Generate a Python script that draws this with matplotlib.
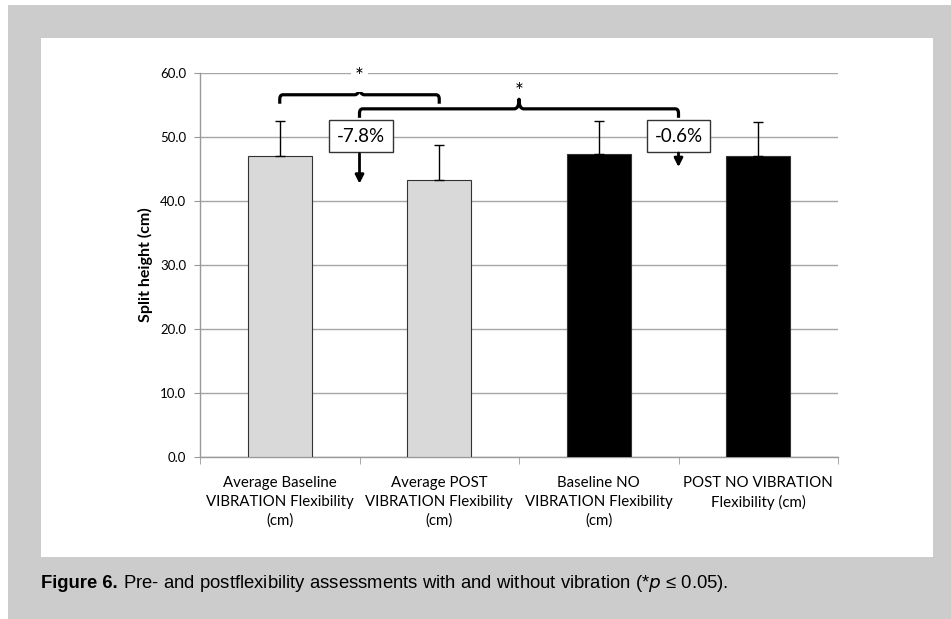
import matplotlib
matplotlib.use("Agg")
import matplotlib.pyplot as plt
from matplotlib.patches import Rectangle
from matplotlib.path import Path
from matplotlib.patches import PathPatch

categories = ["Average Baseline\nVIBRATION Flexibility\n(cm)",
              "Average POST\nVIBRATION Flexibility\n(cm)",
              "Baseline NO\nVIBRATION Flexibility\n(cm)",
              "POST NO VIBRATION\nFlexibility (cm)"]
means = [47.0, 43.3, 47.3, 47.0]
errors = [5.5, 5.45, 5.2, 5.3]
bar_colors = ["#d9d9d9", "#d9d9d9", "#000000", "#000000"]
yticks = [0, 10, 20, 30, 40, 50, 60]
changes = ["-7.8%", "-0.6%"]
caption_bold = "Figure 6."
caption_rest = " Pre- and postflexibility assessments with and without vibration (*$p$ \u2264 0.05)."

W, H = 951, 619
fig = plt.figure(figsize=(W / 100, H / 100), dpi=100)
fig.patch.set_facecolor("white")

# gray frame and white panel
fig.patches.append(Rectangle((8 / W, 0), 1 - 8 / W, 1 - 5 / H, transform=fig.transFigure,
                             facecolor="#cccccc", edgecolor="none", zorder=-2))
fig.patches.append(Rectangle((41 / W, 1 - 557 / H), (933 - 41) / W, (557 - 38) / H,
                             transform=fig.transFigure, facecolor="white", edgecolor="none", zorder=-1))

ax = fig.add_axes([200 / W, 1 - 457 / H, (838 - 200) / W, (457 - 73) / H])
ax.set_zorder(2)
ax.set_facecolor("none")
x = list(range(len(categories)))
ax.bar(x, means, width=0.4, color=bar_colors, edgecolor="#333333", linewidth=0.8, zorder=3)
ax.errorbar(x, means, yerr=[[0] * 4, errors], fmt="none", ecolor="black",
            elinewidth=1.0, capsize=3.5, capthick=1.0, zorder=4)

ax.set_xlim(-0.5, 3.5)
ax.set_ylim(0, 60)
ax.set_yticks(yticks)
ax.set_yticklabels([f"{v:.1f}" for v in yticks], fontsize=9.5, fontfamily="Lato")
ax.yaxis.grid(True, color="#a6a6a6", linewidth=1.0, zorder=0)
ax.set_axisbelow(True)
ax.set_xticks(x)
ax.set_xticklabels(categories, fontsize=10.8, fontfamily="Lato", linespacing=1.4)
ax.set_xticks([-0.5, 0.5, 1.5, 2.5, 3.5], minor=True)
ax.tick_params(axis="x", which="major", length=0, pad=14)
ax.tick_params(axis="x", which="minor", length=5, color="#999999", direction="out")
ax.tick_params(axis="y", length=4, color="#999999", direction="out", pad=6)
for s in ["top", "right"]:
    ax.spines[s].set_visible(False)
for s in ["left", "bottom"]:
    ax.spines[s].set_color("#999999")
    ax.spines[s].set_linewidth(1.0)
ax.set_ylabel("Split height (cm)", fontsize=11.5, fontweight="bold", fontfamily="Lato", labelpad=5)


def brace(x0, x1, xm, y_end, y_h, y_peak):
    r = 0.02
    ry = 0.7
    d = 0.03
    verts = [(x0, y_end), (x0, y_h - ry), (x0, y_h), (x0 + r, y_h),
             (xm - d, y_h), (xm, y_h), (xm, y_peak),
             (xm, y_h), (xm + d, y_h),
             (x1 - r, y_h), (x1, y_h), (x1, y_h - ry), (x1, y_end)]
    codes = [Path.MOVETO, Path.LINETO, Path.CURVE3, Path.CURVE3,
             Path.LINETO, Path.CURVE3, Path.CURVE3,
             Path.CURVE3, Path.CURVE3,
             Path.LINETO, Path.CURVE3, Path.CURVE3, Path.LINETO]
    p = PathPatch(Path(verts, codes), facecolor="none", edgecolor="black",
                  linewidth=2.3, capstyle="butt", joinstyle="round", clip_on=False, zorder=6)
    ax.add_patch(p)


brace(0.0, 1.0, 0.5, 55.2, 56.6, 58.1)
brace(0.5, 2.5, 1.5, 53.0, 54.4, 55.9)
ax.text(0.5, 59.3, "*", ha="center", va="center", fontsize=15, fontfamily="Lato",
        bbox=dict(facecolor="white", edgecolor="none", pad=3), zorder=7, clip_on=False)
ax.text(1.5, 57.0, "*", ha="center", va="center", fontsize=15, fontfamily="Lato", zorder=7)

# change boxes
ax.text(0.51, 50.15, changes[0], ha="center", va="center", fontsize=13.5, fontfamily="Lato",
        bbox=dict(facecolor="white", edgecolor="#333333", linewidth=1.0,
                  boxstyle="square,pad=0.42"), zorder=8)
ax.text(2.5, 50.15, changes[1], ha="center", va="center", fontsize=13.5, fontfamily="Lato",
        bbox=dict(facecolor="white", edgecolor="#333333", linewidth=1.0,
                  boxstyle="square,pad=0.42"), zorder=8)
ax.annotate("", xy=(0.5, 42.7), xytext=(0.5, 47.4),
            arrowprops=dict(arrowstyle="-|>,head_length=0.5,head_width=0.25", color="black",
                            lw=2.0, shrinkA=0, shrinkB=0), zorder=8)
ax.annotate("", xy=(2.5, 45.3), xytext=(2.5, 47.5),
            arrowprops=dict(arrowstyle="-|>,head_length=0.5,head_width=0.25", color="black",
                            lw=2.0, shrinkA=0, shrinkB=0), zorder=8)

# caption
t = fig.text(41 / W, 1 - 583 / H, caption_bold, fontsize=13.3, fontweight="bold",
             fontfamily="Liberation Sans", va="center", ha="left")
fig.canvas.draw()
bb = t.get_window_extent()
fig.text(bb.x1 / W, 1 - 583 / H, caption_rest, fontsize=13.3, fontfamily="Liberation Sans",
         va="center", ha="left")

fig.savefig("out.png", dpi=100)
